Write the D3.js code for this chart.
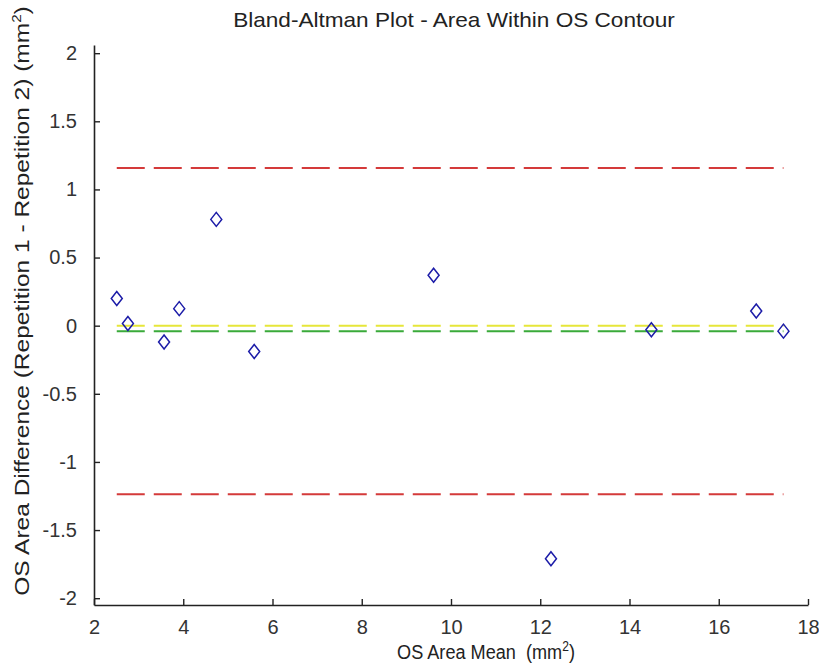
<!DOCTYPE html>
<html>
<head>
<meta charset="utf-8">
<script src="https://cdn.jsdelivr.net/npm/d3@7"></script>
<style>
  html, body { margin: 0; padding: 0; background: #fff; }
  svg { display: block; font-family: "Liberation Sans", Arial, sans-serif; }
</style>
</head>
<body>
<svg id="chart" width="819" height="667"></svg>
<script>
// ---- data ----
const meanValues = [2.51, 2.76, 3.57, 3.91, 4.74, 5.59, 9.61, 12.24, 14.49, 16.84, 17.45];
const diffValues = [0.20, 0.016, -0.12, 0.125, 0.78, -0.19, 0.37, -1.71, -0.03, 0.108, -0.04];
const meanDiff = -0.04;
const upperLimit = 1.158;
const lowerLimit = -1.238;
const zeroLine = 0;
const xTicks = [2, 4, 6, 8, 10, 12, 14, 16, 18];
const yTicks = [-2, -1.5, -1, -0.5, 0, 0.5, 1, 1.5, 2];
const titleText = "Bland-Altman Plot - Area Within OS Contour";

const svg = d3.select("#chart");
const x = d3.scaleLinear().domain([2, 18]).range([94, 808]);
const y = d3.scaleLinear().domain([-2.05, 2.06]).range([605, 45]);

const fmt = d => String(d);

// axes
const gx = svg.append("g").attr("transform", "translate(0,605)")
  .call(d3.axisBottom(x).tickValues(xTicks).tickFormat(fmt).tickSizeInner(-6).tickSizeOuter(0).tickPadding(15));
const gy = svg.append("g").attr("transform", "translate(94,0)")
  .call(d3.axisLeft(y).tickValues(yTicks).tickFormat(fmt).tickSizeInner(-6).tickSizeOuter(0).tickPadding(17));

[gx, gy].forEach(g => {
  g.select(".domain").attr("stroke", "#222").attr("stroke-width", 1.6);
  g.selectAll(".tick line").attr("stroke", "#222").attr("stroke-width", 1.4);
  g.selectAll(".tick text").attr("fill", "#333").style("font-size", "20px");
});

// reference lines
const x0 = d3.min(meanValues), x1 = d3.max(meanValues);
const lines = [
  { v: upperLimit, c: "#d43a3a" },
  { v: lowerLimit, c: "#d43a3a" },
  { v: zeroLine, c: "#e6e63a" },
  { v: meanDiff, c: "#3aaa3a" }
];
svg.append("g").selectAll("line").data(lines).join("line")
  .attr("x1", x(x0)).attr("x2", x(x1))
  .attr("y1", d => y(d.v)).attr("y2", d => y(d.v))
  .attr("stroke", d => d.c).attr("stroke-width", 2)
  .attr("stroke-dasharray", "28,9");

// diamonds
const pts = meanValues.map((m, i) => ({ m, d: diffValues[i] }));
svg.append("g").selectAll("path").data(pts).join("path")
  .attr("d", p => {
    const cx = x(p.m), cy = y(p.d), w = 5.5, h = 7;
    return `M${cx},${cy - h}L${cx + w},${cy}L${cx},${cy + h}L${cx - w},${cy}Z`;
  })
  .attr("fill", "none").attr("stroke", "#1c1ca8").attr("stroke-width", 1.5);

// helper: squeeze/stretch a text along its own direction to a target length
function fitText(sel, cx, cy, angle, target) {
  const w = sel.node().getComputedTextLength();
  const s = target / w;
  sel.attr("transform", `translate(${cx},${cy}) rotate(${angle}) scale(${s},1)`);
}

// title
const tt = svg.append("text").attr("text-anchor", "middle")
  .attr("fill", "#222").style("font-size", "21px").text(titleText);
fitText(tt, 454, 27, 0, 442);

// x label
const xl = svg.append("text").attr("text-anchor", "middle")
  .attr("fill", "#222").style("font-size", "21px").style("white-space", "pre");
xl.append("tspan").text("OS Area Mean  (mm");
xl.append("tspan").attr("dy", -8).style("font-size", "14px").text("2");
xl.append("tspan").attr("dy", 8).text(")");
fitText(xl, 486, 659, 0, 178);

// y label
const yl = svg.append("text").attr("text-anchor", "middle")
  .attr("fill", "#222").style("font-size", "21px");
yl.append("tspan").text("OS Area Difference (Repetition 1 - Repetition 2) (mm");
yl.append("tspan").attr("dy", -8).style("font-size", "13px").text("2");
yl.append("tspan").attr("dy", 8).text(")");
fitText(yl, 29, 301, -90, 590);
</script>
</body>
</html>
